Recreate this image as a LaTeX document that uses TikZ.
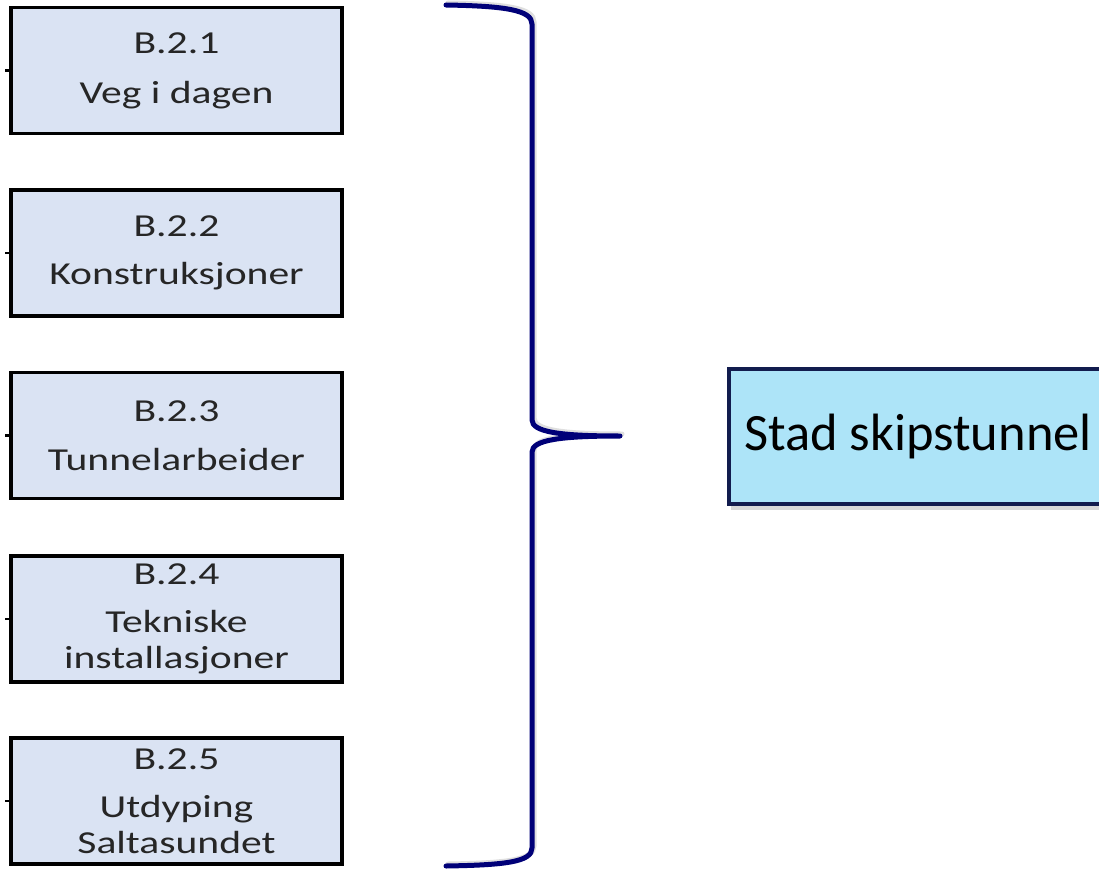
\documentclass[tikz,border=0pt]{standalone}
\usepackage{fontspec}
\setmainfont{Carlito}
\newfontfamily\itemfont[FakeStretch=1.3]{Carlito}
\definecolor{itemfill}{RGB}{218,227,243}
\definecolor{itemtext}{RGB}{38,38,38}
\definecolor{bracecol}{RGB}{0,0,120}
\definecolor{mainfill}{RGB}{173,228,248}
\definecolor{mainedge}{RGB}{18,28,78}
\tikzset{
  itembox/.style={draw=black, line width=3.4pt, fill=itemfill,
    minimum width=331pt, minimum height=126pt, inner sep=0pt,
    align=center, text=itemtext,
    font=\itemfont\fontsize{32}{36}\selectfont},
  mainbox/.style={draw=mainedge, line width=4pt, fill=mainfill,
    minimum width=378pt, minimum height=135pt, inner sep=0pt,
    anchor=west, font=\fontsize{52.5}{60}\selectfont},
  bracepath/.style={draw=bracecol, line width=5pt, line cap=round, line join=round},
  braceshadow/.style={draw=black!25, line width=5pt, line cap=round, opacity=0.5},
  stub/.style={draw=black, line width=2.4pt}
}
\begin{document}
\begin{tikzpicture}[x=1pt,y=-1pt]
\useasboundingbox (0,0) rectangle (1099,869);

% work package boxes
\node[itembox] (b1) at (176.5,70.5)  {B.2.1\\[14pt]Veg i dagen};
\node[itembox] (b2) at (176.5,253)   {B.2.2\\[12pt]Konstruksjoner};
\node[itembox] (b3) at (176.5,435.5) {B.2.3\\[13pt]Tunnelarbeider};
\node[itembox] (b4) at (176.5,619)   {B.2.4\\[12pt]Tekniske\\installasjoner};
\node[itembox] (b5) at (176.5,801)   {B.2.5\\[12pt]Utdyping\\Saltasundet};

% short stubs on the left edges
\foreach \b in {b1,b2,b3,b4,b5}{
  \coordinate (\b s) at ([xshift=-4pt]\b.west);
  \draw[stub] (\b.west) -- (\b s);
}

% project box
\fill[black!30, opacity=0.5] (731,372) rectangle (1110,510);
\node[mainbox] (main) at (727,436.5) {\raisebox{-5pt}{Stad skipstunnel}};

% curly brace
\coordinate (tip) at (620,436);
\draw[braceshadow, shift={(2pt,2pt)}]
  (446,5) .. controls (505,6) and (532,10) .. (532,24)
  -- (532,420) .. controls (532,432) and (560,436) .. (620,436)
  (620,436) .. controls (560,436) and (532,440) .. (532,452)
  -- (532,848) .. controls (532,862) and (505,865) .. (446,866);
\draw[bracepath]
  (446,5) .. controls (505,6) and (532,10) .. (532,24)
  -- (532,420) .. controls (532,432) and (560,436) .. (tip)
  (tip) .. controls (560,436) and (532,440) .. (532,452)
  -- (532,848) .. controls (532,862) and (505,865) .. (446,866);
\end{tikzpicture}
\end{document}
